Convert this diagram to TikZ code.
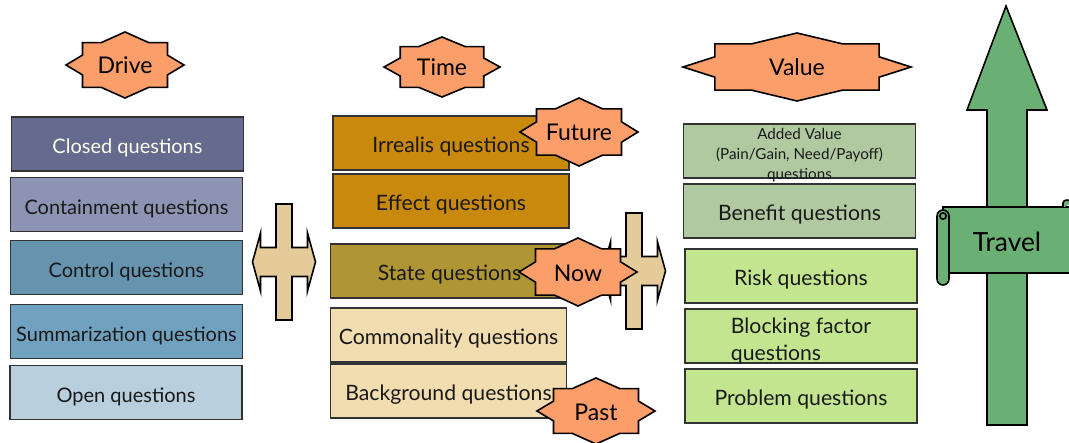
\documentclass[tikz,border=0pt]{standalone}
\usepackage{fontspec}
\setmainfont{Lato}
\usepackage{xcolor}
\definecolor{closedc}{HTML}{646B8E}
\definecolor{containc}{HTML}{8C93B3}
\definecolor{controlc}{HTML}{6693AD}
\definecolor{summaryc}{HTML}{70A2BF}
\definecolor{openc}{HTML}{B9CFDD}
\definecolor{futurec}{HTML}{C8890D}
\definecolor{nowc}{HTML}{B09535}
\definecolor{pastc}{HTML}{F2DDB0}
\definecolor{gainc}{HTML}{B0C9A1}
\definecolor{riskc}{HTML}{C3E58F}
\definecolor{starc}{HTML}{FC9E6A}
\definecolor{crossc}{HTML}{E4CB99}
\definecolor{travelc}{HTML}{6AAF73}

\begin{document}
\begin{tikzpicture}[x=0.5pt, y=-0.5pt,
        qbox/.style={draw=black!80, line width=0.6pt, minimum width=116pt, minimum height=27pt,
            inner sep=0pt, text=black!90, text height=11.5pt, text depth=2pt,
            font=\fontsize{10}{12}\selectfont},
        bigtext/.style={font=\fontsize{10.6}{12}\selectfont},
        burst/.style={draw=black, line width=0.8pt, fill=starc},
        cross/.style={draw=black, line width=0.8pt, fill=crossc},
        scroll/.style={draw=black, line width=0.8pt, fill=travelc}]
        \useasboundingbox (0,0) rectangle (1069,443);

        % drive column
        \node[qbox, fill=closedc, text=white!92!yellow] (closed) at (127.5,144) {Closed questions};
        \node[qbox, fill=containc] (containment) at (126.5,204.5) {Containment questions};
        \node[qbox, fill=controlc] (control) at (126.5,267.5) {Control questions};
        \node[qbox, fill=summaryc] (summarization) at (126.5,331.5) {Summarization questions};
        \node[qbox, fill=openc] (open) at (126,392.5) {Open questions};

        % time column
        \node[qbox, bigtext, minimum width=118pt, fill=futurec] (irrealis) at (451,143) {Irrealis questions};
        \node[qbox, bigtext, minimum width=118pt, fill=futurec] (effect) at (451,201) {Effect questions};
        \node[qbox, bigtext, minimum width=119pt, fill=nowc] (state) at (449.5,271) {State questions};
        \node[qbox, bigtext, minimum width=118pt, fill=pastc] (commonality) at (448.5,335) {Commonality questions};
        \node[qbox, bigtext, minimum width=118pt, fill=pastc] (background) at (448.5,391) {Background questions};

        % value column
        \node[qbox, fill=gainc] (added) at (799.5,151) {};
        \node[align=center, inner sep=0pt, text=black!90, font=\fontsize{7.6}{10}\selectfont]
            (addedtext) at ([yshift=-2pt]added.center) {Added Value\\(Pain/Gain, Need/Payoff)\\questions};
        \node[qbox, bigtext, fill=gainc] (benefit) at (799.5,211) {Benefit questions};
        \node[qbox, bigtext, fill=riskc] (risk) at (801,276) {Risk questions};
        \node[qbox, fill=riskc] (blocking) at (801,336) {};
        \node[align=left, inner sep=0pt, text=black!90, font=\fontsize{10.6}{13.5}\selectfont]
            (blockingtext) at ([yshift=-2.5pt]blocking.center) {Blocking factor\\questions};
        \node[qbox, bigtext, fill=riskc] (problem) at (801,396) {Problem questions};

        % double arrows with cross bar
        \foreach \cx/\cy in {284/262, 634/271} {
            \draw[cross, shift={(\cx,\cy)}] (-31.5,0) -- (-23.5,-29) -- (-23.5,-14.5) -- (-8,-14.5)
                -- (-8,-58) -- (8,-58) -- (8,-14.5) -- (23.5,-14.5) -- (23.5,-29) -- (31.5,0)
                -- (23.5,29) -- (23.5,14.5) -- (8,14.5) -- (8,58) -- (-8,58) -- (-8,14.5)
                -- (-23.5,14.5) -- (-23.5,29) -- cycle;
        }

        % stars
        \foreach \nm/\cx/\cy/\w/\h/\txt in {drive/125/65/59/33/Drive, time/442/67/58/30/Time,
                value/797/67/114/34/Value, future/579/132/59/34/Future,
                now/578/272/59/34/Now, past/596/411/59/33/Past} {
            \draw[burst, shift={(\cx,\cy)}, xscale=\w, yscale=\h] (1,0) -- (0.72,0.3) -- (0.72,0.68)
                -- (0.4,0.68) -- (0,1) -- (-0.4,0.68) -- (-0.72,0.68) -- (-0.72,0.3) -- (-1,0)
                -- (-0.72,-0.3) -- (-0.72,-0.68) -- (-0.4,-0.68) -- (0,-1) -- (0.4,-0.68)
                -- (0.72,-0.68) -- (0.72,-0.3) -- cycle;
            \node[font=\fontsize{11.5}{13}\selectfont, text height=11.5pt, text depth=2.5pt] (\nm) at (\cx,\cy) {\txt};
        }

        % travel arrow and scroll
        \draw[scroll] (987,425) -- (987,110) -- (967,110) -- (1006,6) -- (1047,110) -- (1027,110)
            -- (1027,425) -- cycle;
        \draw[scroll] (943,207) rectangle (1085,273);
        \draw[scroll] (1063,208) -- (1063,203) .. controls (1063,199) and (1071,199) .. (1071,203);
        \draw[scroll, rounded corners=3pt] (937,210) rectangle (949,285);
        \draw[line width=0.8pt] (943,216) circle [radius=1.6pt];
        \node[font=\fontsize{13.2}{15}\selectfont] (travel) at (1007,242) {Travel};
    \end{tikzpicture}
\end{document}
